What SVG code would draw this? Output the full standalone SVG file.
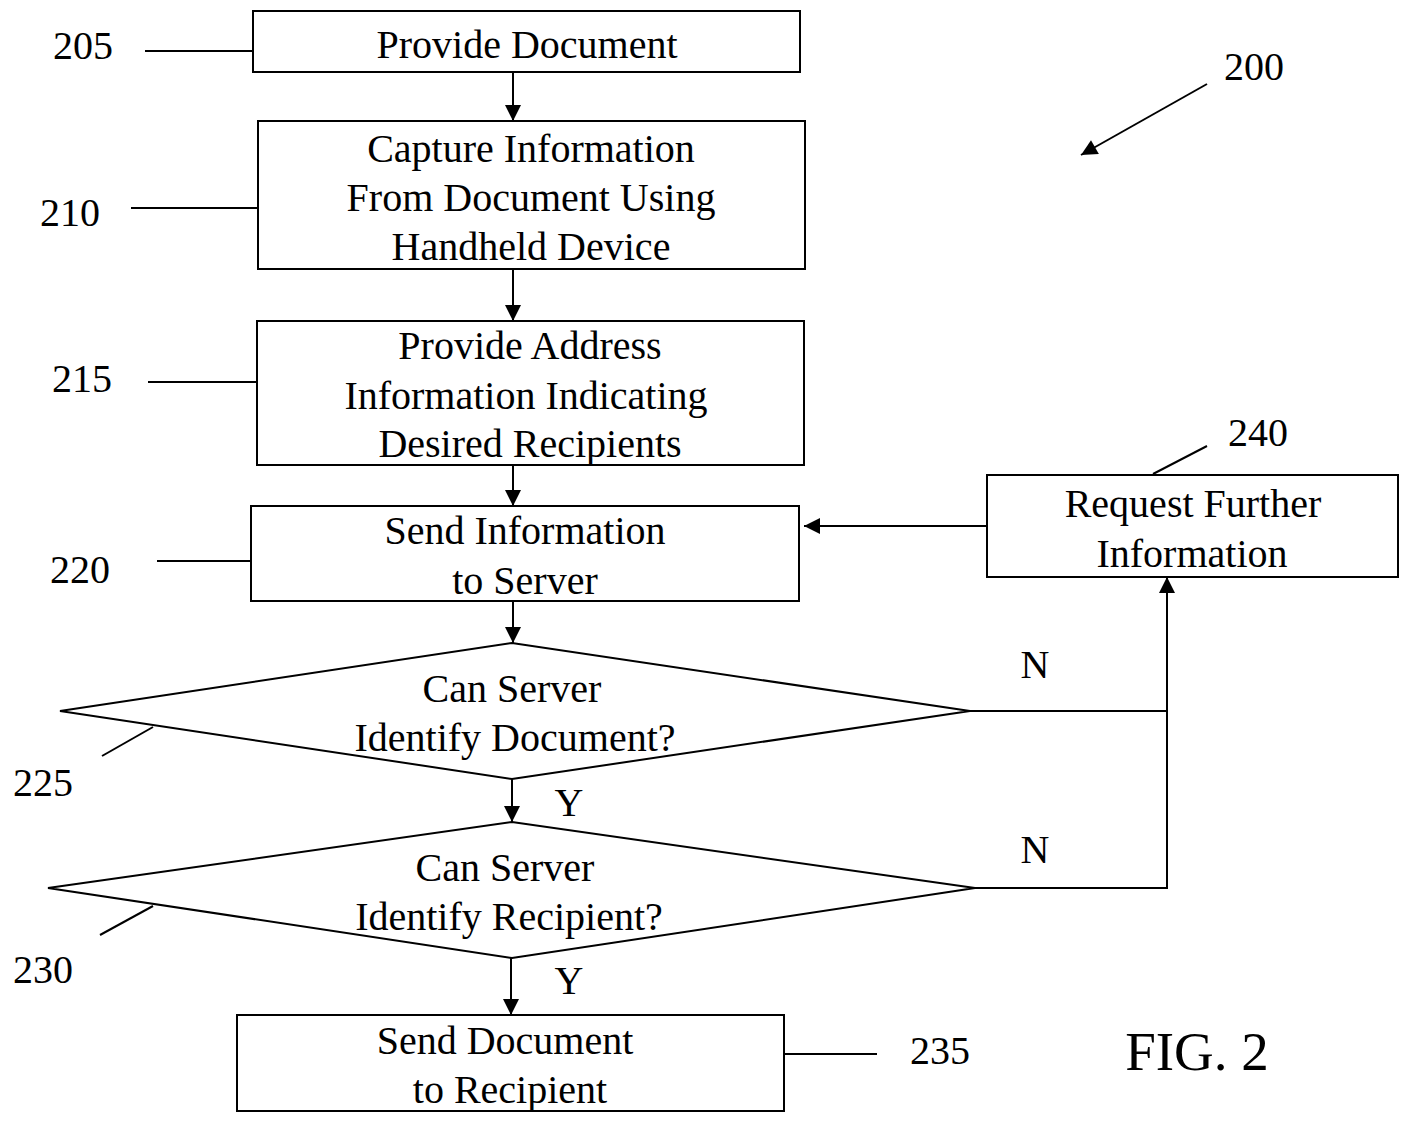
<svg xmlns="http://www.w3.org/2000/svg" width="1406" height="1124" viewBox="0 0 1406 1124">
<style>
.b{fill:none;stroke:#000;stroke-width:2}
.l{stroke:#000;stroke-width:2;fill:none}
text{font-family:"Liberation Serif","Times New Roman",serif;font-size:40px;fill:#000}
.c{text-anchor:middle}
</style>
<defs>
<marker id="A" viewBox="0 0 10 10" refX="10" refY="5" markerWidth="18" markerHeight="16" markerUnits="userSpaceOnUse" orient="auto"><path d="M0,0 L10,5 L0,10 z" fill="#000"/></marker>
</defs>
<rect width="1406" height="1124" fill="#fff"/>
<g id="n205"><rect class="b" x="253" y="11" width="547" height="61"/><text class="c" x="527" y="58">Provide Document</text></g>
<g id="n210"><rect class="b" x="258" y="121" width="547" height="148"/><text class="c" x="531" y="162">Capture Information</text><text class="c" x="531" y="211">From Document Using</text><text class="c" x="531" y="260">Handheld Device</text></g>
<g id="n215"><rect class="b" x="257" y="321" width="547" height="144"/><text class="c" x="530" y="359">Provide Address</text><text class="c" x="526" y="409">Information Indicating</text><text class="c" x="530" y="457">Desired Recipients</text></g>
<g id="n220"><rect class="b" x="251" y="506" width="548" height="95"/><text class="c" x="525" y="544">Send Information</text><text class="c" x="525" y="594">to Server</text></g>
<g id="n225"><polygon class="b" points="60,711 512,643 970,711 512,779"/><text class="c" x="512" y="702">Can Server</text><text class="c" x="515" y="751">Identify Document?</text></g>
<g id="n230"><polygon class="b" points="48,888 512,822 975,888 512,958"/><text class="c" x="505" y="881">Can Server</text><text class="c" x="509" y="930">Identify Recipient?</text></g>
<g id="n235"><rect class="b" x="237" y="1015" width="547" height="96"/><text class="c" x="505" y="1054">Send Document</text><text class="c" x="510" y="1103">to Recipient</text></g>
<g id="n240"><rect class="b" x="987" y="475" width="411" height="102"/><text class="c" x="1193" y="517">Request Further</text><text class="c" x="1192" y="567">Information</text></g>
<g id="connectors">
<line class="l" x1="513" y1="72" x2="513" y2="121" marker-end="url(#A)"/>
<line class="l" x1="513" y1="269" x2="513" y2="321" marker-end="url(#A)"/>
<line class="l" x1="513" y1="465" x2="513" y2="506" marker-end="url(#A)"/>
<line class="l" x1="513" y1="601" x2="513" y2="643" marker-end="url(#A)"/>
<line class="l" x1="512" y1="779" x2="512" y2="822" marker-end="url(#A)"/>
<line class="l" x1="511" y1="958" x2="511" y2="1015" marker-end="url(#A)"/>
<polyline class="l" points="970,711 1167,711"/>
<polyline class="l" points="975,888 1167,888 1167,577" marker-end="url(#A)"/>
<line class="l" x1="987" y1="526" x2="804" y2="526" marker-end="url(#A)"/>
<text x="1035" y="678" class="c">N</text>
<text x="1035" y="863" class="c">N</text>
<text x="569" y="816" class="c">Y</text>
<text x="569" y="994" class="c">Y</text>
</g>
<g id="labels">
<text class="c" x="83" y="59">205</text><line class="l" x1="145" y1="51" x2="253" y2="51"/>
<text class="c" x="70" y="226">210</text><line class="l" x1="131" y1="208" x2="258" y2="208"/>
<text class="c" x="82" y="392">215</text><line class="l" x1="148" y1="382" x2="257" y2="382"/>
<text class="c" x="80" y="583">220</text><line class="l" x1="157" y1="561" x2="251" y2="561"/>
<text class="c" x="43" y="796">225</text><line class="l" x1="102" y1="756" x2="153" y2="727"/>
<text class="c" x="43" y="983">230</text><line class="l" x1="100" y1="935" x2="153" y2="906"/>
<text class="c" x="940" y="1064">235</text><line class="l" x1="784" y1="1054" x2="877" y2="1054"/>
<text class="c" x="1258" y="446">240</text><line class="l" x1="1153" y1="474" x2="1207" y2="446"/>
<text class="c" x="1254" y="80">200</text><line class="l" x1="1207" y1="84" x2="1081" y2="155" marker-end="url(#A)"/>
<text class="c" x="1197" y="1070" style="font-size:55px">FIG. 2</text>
</g>
</svg>
